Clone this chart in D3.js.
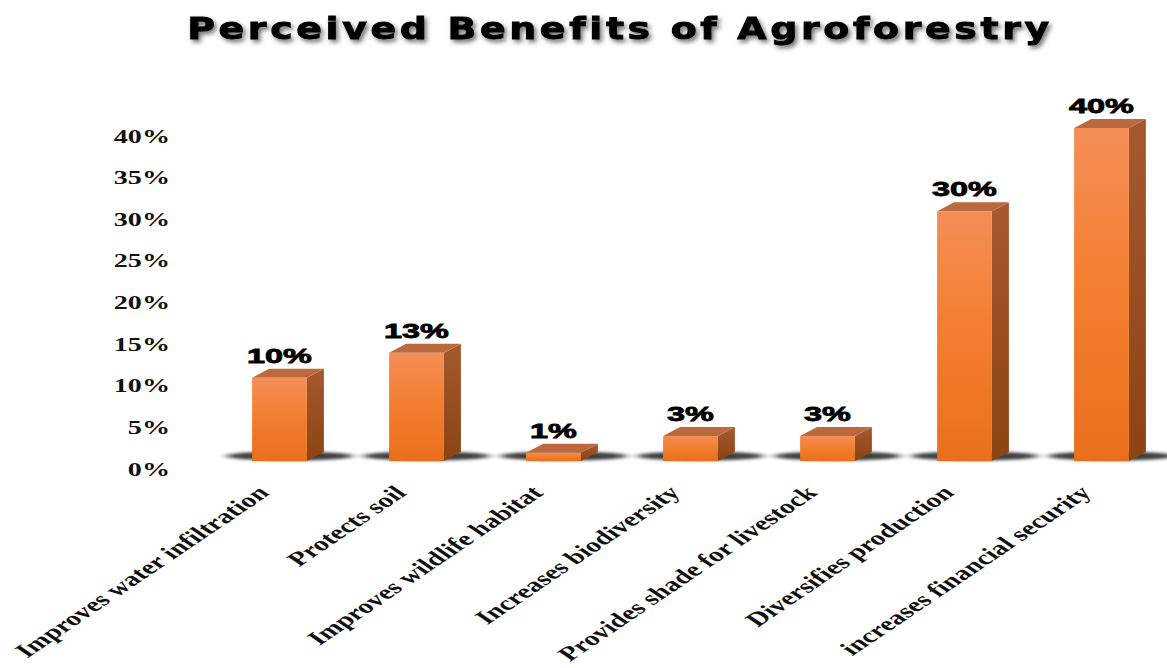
<!DOCTYPE html>
<html>
<head>
<meta charset="utf-8">
<script src="https://cdn.jsdelivr.net/npm/d3@7/dist/d3.min.js"></script>
<style>
  html, body { margin: 0; padding: 0; background: #fff; }
  svg { display: block; }
</style>
</head>
<body>
<svg id="chart" width="1167" height="668"></svg>
<script>
// Survey results: share of respondents naming each benefit
const categories = [
  "Improves water infiltration",
  "Protects soil",
  "Improves wildlife habitat",
  "Increases biodiversity",
  "Provides shade for livestock",
  "Diversifies production",
  "increases financial security"
];
const values = [10, 13, 1, 3, 3, 30, 40];
const valueLabels = ["10%", "13%", "1%", "3%", "3%", "30%", "40%"];
const yTicks = [0, 5, 10, 15, 20, 25, 30, 35, 40];
const yTickLabels = ["0%", "5%", "10%", "15%", "20%", "25%", "30%", "35%", "40%"];
const title = "Perceived Benefits of Agroforestry";

const svg = d3.select("#chart");

// horizontal stretch applied to text for the wide layout
const SX = 1.48;

const x = d3.scaleBand().domain(categories).range([211, 1170]).paddingInner(0.6).paddingOuter(0.3);
const y = d3.scaleLinear().domain([0, 40]).range([461, 128]);

// 3D depth offsets
const DX = 17, DY = 9;

const defs = svg.append("defs");
const gFront = defs.append("linearGradient").attr("id", "gFront").attr("x1", 0).attr("y1", 0).attr("x2", 0).attr("y2", 1);
gFront.append("stop").attr("offset", "0%").attr("stop-color", "#f48e57");
gFront.append("stop").attr("offset", "45%").attr("stop-color", "#f37f30");
gFront.append("stop").attr("offset", "100%").attr("stop-color", "#e96f1c");
const gSide = defs.append("linearGradient").attr("id", "gSide").attr("x1", 0).attr("y1", 0).attr("x2", 0).attr("y2", 1);
gSide.append("stop").attr("offset", "0%").attr("stop-color", "#a5592f");
gSide.append("stop").attr("offset", "100%").attr("stop-color", "#8c4413");
const blur = defs.append("filter").attr("id", "shadowBlur").attr("x", "-30%").attr("y", "-200%").attr("width", "160%").attr("height", "500%");
blur.append("feGaussianBlur").attr("stdDeviation", "5 1.5");
const tshadow = defs.append("filter").attr("id", "titleShadow").attr("x", "-5%").attr("y", "-30%").attr("width", "110%").attr("height", "160%");
tshadow.append("feDropShadow").attr("dx", 2).attr("dy", 3).attr("stdDeviation", 2).attr("flood-color", "#000").attr("flood-opacity", 0.55);

// Title
const titleEl = svg.append("text")
  .attr("font-family", "'DejaVu Sans', sans-serif")
  .attr("font-weight", "bold")
  .attr("font-size", 31)
  .attr("letter-spacing", 3)
  .attr("text-anchor", "middle")
  .attr("fill", "#000")
  .attr("stroke", "#000")
  .attr("stroke-width", 0.9)
  .attr("filter", "url(#titleShadow)")
  .text(title);
const tw = titleEl.node().getComputedTextLength();
titleEl.attr("transform", `translate(620,39) scale(${866 / tw},1)`);

// Y axis (labels only)
const yAxis = d3.axisLeft(y).tickValues(yTicks).tickSize(0).tickPadding(0)
  .tickFormat((d, i) => yTickLabels[i]);
const ay = svg.append("g").attr("transform", "translate(170,8)").call(yAxis);
ay.select(".domain").remove();
ay.selectAll("text")
  .attr("font-family", "'Liberation Serif', 'Times New Roman', serif")
  .attr("font-weight", "bold")
  .attr("font-size", 19)
  .attr("fill", "#111")
  .attr("transform", `scale(${SX},1)`);

const bw = x.bandwidth();

// floor shadows behind bars
svg.append("g").selectAll("ellipse").data(categories).join("ellipse")
  .attr("cx", d => x(d) + bw / 2 + 10)
  .attr("cy", y(0) - 5)
  .attr("rx", bw / 2 + 36)
  .attr("ry", 4.5)
  .attr("fill", "#000")
  .attr("opacity", 0.75)
  .attr("filter", "url(#shadowBlur)");

// bars
const bars = svg.append("g").selectAll("g").data(categories).join("g");
bars.append("path") // side face
  .attr("d", (d, i) => {
    const x1 = x(d) + bw, yt = y(values[i]), yb = y(0);
    return `M${x1},${yt}L${x1 + DX},${yt - DY}L${x1 + DX},${yb - DY}L${x1},${yb}Z`;
  })
  .attr("fill", "url(#gSide)");
bars.append("path") // top face
  .attr("d", (d, i) => {
    const x0 = x(d), yt = y(values[i]);
    return `M${x0},${yt}L${x0 + DX},${yt - DY}L${x0 + bw + DX},${yt - DY}L${x0 + bw},${yt}Z`;
  })
  .attr("fill", "#bb693e");
bars.append("rect") // front face
  .attr("x", d => x(d))
  .attr("y", (d, i) => y(values[i]))
  .attr("width", bw)
  .attr("height", (d, i) => y(0) - y(values[i]))
  .attr("fill", "url(#gFront)");

// value labels
svg.append("g").selectAll("text").data(categories).join("text")
  .attr("transform", (d, i) => `translate(${x(d) + bw / 2},${y(values[i]) - DY - 6}) scale(1.62,1)`)
  .attr("text-anchor", "middle")
  .attr("font-family", "'Liberation Sans', Arial, sans-serif")
  .attr("font-weight", "bold")
  .attr("font-size", 20)
  .attr("fill", "#000")
  .attr("stroke", "#000")
  .attr("stroke-width", 0.8)
  .text((d, i) => valueLabels[i]);

// category labels, slanted
svg.append("g").selectAll("text").data(categories).join("text")
  .attr("transform", d => `translate(${x(d) + bw / 2 - 9},${494}) scale(${SX},1) rotate(-45)`)
  .attr("text-anchor", "end")
  .attr("font-family", "'Liberation Serif', 'Times New Roman', serif")
  .attr("font-weight", "bold")
  .attr("font-size", 20)
  .attr("fill", "#111")
  .text(d => d);
</script>
</body>
</html>
